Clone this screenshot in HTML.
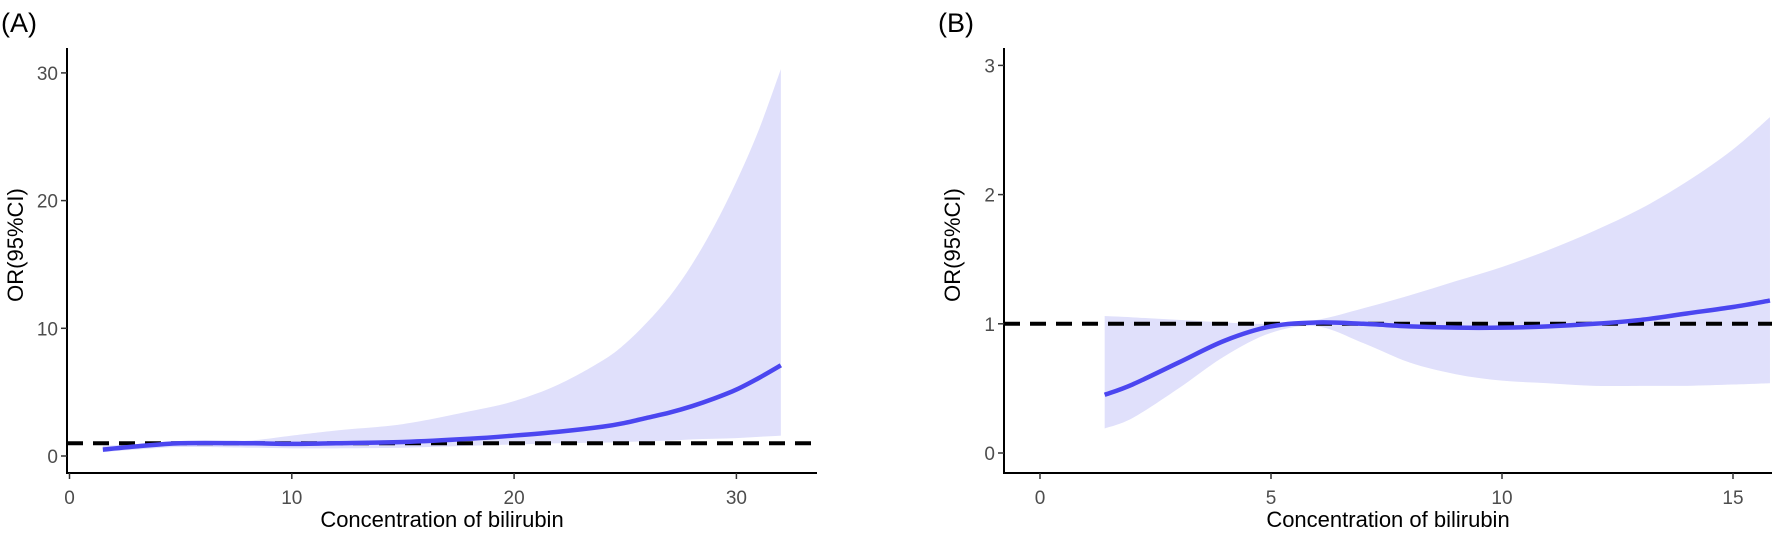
<!DOCTYPE html>
<html><head><meta charset="utf-8"><style>
body{margin:0;background:#fff}
svg{display:block;font-family:"Liberation Sans",sans-serif}
</style></head><body>
<svg id="c" width="1772" height="535"></svg>
<script>
const aX=[1.5,3,5,8,10,12,15,18,20,22,24,25,26,27,28,29,30,31,32];
const aMid=[0.5,0.75,1.0,1.0,0.95,1.0,1.1,1.35,1.6,1.9,2.3,2.6,3.0,3.4,3.9,4.5,5.2,6.1,7.1];
const aUp=[0.8,0.9,1.0,1.2,1.6,2.0,2.5,3.5,4.3,5.6,7.5,8.8,10.5,12.5,15,18,21.5,25.5,30.3];
const aLo=[0.3,0.5,0.7,0.65,0.6,0.6,0.65,0.8,0.9,1.0,1.05,1.1,1.15,1.2,1.3,1.35,1.4,1.5,1.6];
const aTicksX=[0,10,20,30], aTicksY=[0,10,20,30];
const bX=[1.4,2,3,4,5,6,7,8,9,10,11,12,13,14,15,15.8];
const bMid=[0.45,0.53,0.7,0.87,0.98,1.01,1.0,0.98,0.97,0.97,0.98,1.0,1.03,1.08,1.13,1.18];
const bUp=[1.06,1.05,1.03,1.01,1.0,1.03,1.12,1.22,1.33,1.44,1.57,1.72,1.89,2.1,2.35,2.6];
const bLo=[0.19,0.27,0.5,0.75,0.93,0.98,0.85,0.7,0.61,0.56,0.54,0.52,0.52,0.52,0.53,0.54];
const bTicksX=[0,5,10,15], bTicksY=[0,1,2,3];
const NS="http://www.w3.org/2000/svg", svg=document.getElementById('c');
function el(t,a,p){const e=document.createElementNS(NS,t);for(const k in a)e.setAttribute(k,a[k]);(p||svg).appendChild(e);return e;}
function smooth(pts,start){
 let d=start?'M'+pts[0][0]+','+pts[0][1]:'L'+pts[0][0]+','+pts[0][1];
 for(let i=0;i<pts.length-1;i++){
  const p0=pts[Math.max(0,i-1)],p1=pts[i],p2=pts[i+1],p3=pts[Math.min(pts.length-1,i+2)];
  const c1=[p1[0]+(p2[0]-p0[0])/6,p1[1]+(p2[1]-p0[1])/6];
  const c2=[p2[0]-(p3[0]-p1[0])/6,p2[1]-(p3[1]-p1[1])/6];
  d+=`C${c1[0]},${c1[1]} ${c2[0]},${c2[1]} ${p2[0]},${p2[1]}`;
 }
 return d;
}
function panel(id,o,xs,mid,up,lo,tx,ty){
 const g=el('g',{});
 
 
 const X=v=>o.x0+(v-o.xa)*o.kx, Y=v=>o.y0-(v-o.ya)*o.ky;
 const upPts=xs.map((v,i)=>[X(v),Y(up[i])]);
 const loPts=xs.map((v,i)=>[X(v),Y(lo[i])]).reverse();
 const band=el('path',{d:smooth(upPts,true)+smooth(loPts,false)+'Z',fill:'#e0e0fb'},g);
 
 
 const ref=el('line',{x1:o.axL,x2:o.axR,y1:Y(1),y2:Y(1),stroke:'#000','stroke-width':4,'stroke-dasharray':'16 10'},g);
 
 
 const ln=el('path',{d:smooth(xs.map((v,i)=>[X(v),Y(mid[i])]),true),fill:'none',stroke:'#4b46f0','stroke-width':4.5,'stroke-linejoin':'round'},g);
 
 
 const ax=el('path',{d:`M${o.axL},48V${o.axB}H${o.axR}`,fill:'none',stroke:'#000','stroke-width':2},g);
 
 
 tx.forEach(v=>{el('line',{x1:X(v),x2:X(v),y1:o.axB,y2:o.axB+6,stroke:'#333','stroke-width':1.5},g);
  const t=el('text',{x:X(v),y:o.axB+31,'text-anchor':'middle','font-size':19,fill:'#4d4d4d'},g);t.textContent=v;
  
  });
 ty.forEach(v=>{el('line',{x1:o.axL-6,x2:o.axL,y1:Y(v),y2:Y(v),stroke:'#333','stroke-width':1.5},g);
  const t=el('text',{x:o.axL-9,y:Y(v)+7,'text-anchor':'end','font-size':19,fill:'#4d4d4d'},g);t.textContent=v;
  
  });
 const xt=el('text',{x:(o.axL+o.axR)/2,y:527,'text-anchor':'middle','font-size':22,fill:'#000'},g);xt.textContent='Concentration of bilirubin';
 
 
 const yt=el('text',{x:0,y:0,transform:`translate(${o.axL-44},245) rotate(-90)`,'text-anchor':'middle','font-size':22,fill:'#000'},g);yt.textContent='OR(95%CI)';
 
 
 const pl=el('text',{x:o.axL-66,y:32,'font-size':27,fill:'#000'},g);pl.textContent='('+id+')';
 
 
}
panel('A',{x0:69.5,xa:0,kx:22.23,y0:456,ya:0,ky:12.77,axL:67,axR:817,axB:473},aX,aMid,aUp,aLo,aTicksX,aTicksY);
panel('B',{x0:1040,xa:0,kx:46.2,y0:453,ya:0,ky:129.2,axL:1004,axR:1772,axB:473},bX,bMid,bUp,bLo,bTicksX,bTicksY);
</script>
</body></html>
